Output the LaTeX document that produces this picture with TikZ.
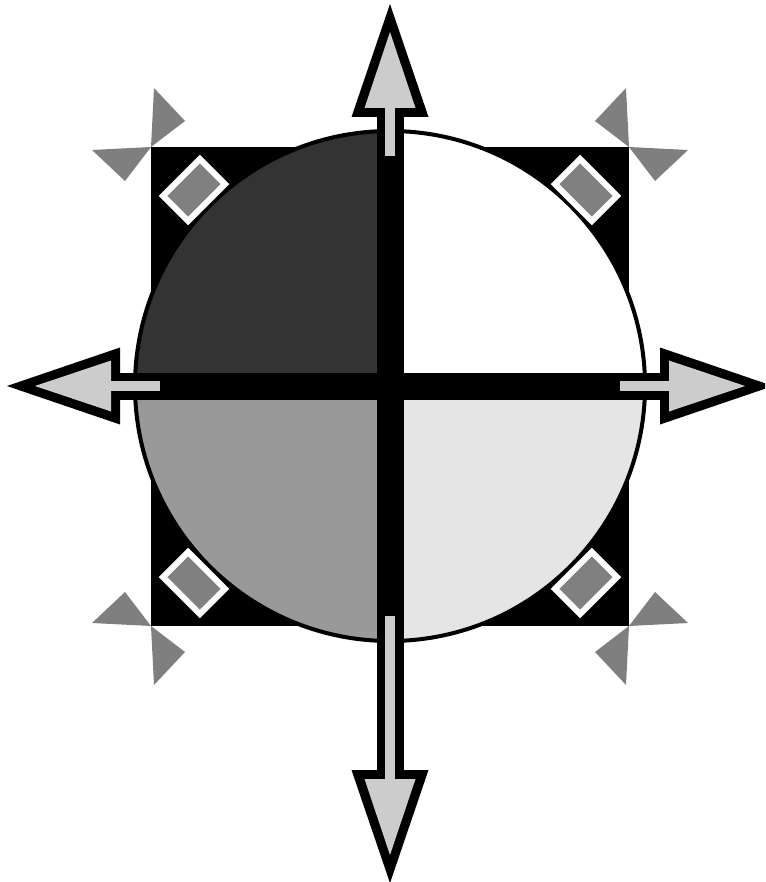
\documentclass[tikz,border=0pt]{standalone}
\definecolor{qdark}{gray}{0.2}
\definecolor{qmid}{gray}{0.6}
\definecolor{qlight}{gray}{0.9}
\definecolor{arrowfill}{gray}{0.8}
\definecolor{markgray}{gray}{0.5}
\tikzset{
  sectorline/.style={draw=black,line width=4pt},
  markbox/.style={fill=markgray,draw=white,line width=6pt},
  cornertri/.style={fill=black,fill opacity=0.5},
}
\newcommand\compassarrow[2]{%
  \begin{scope}[shift={(390,386)},rotate=#1]
    \fill[black] (0,-13.5) rectangle (#2+2,13.5);
    \fill[black] (#2,-38.5) -- (#2+113,0) -- (#2,38.5) -- cycle;
    \fill[arrowfill] (230,-5) rectangle (#2+12,5);
    \fill[arrowfill] (#2+9,-25.5) -- (#2+85,0) -- (#2+9,25.5) -- cycle;
  \end{scope}}
\newcommand\markdiamond[3]{%
  \begin{scope}[shift={(#1,#2)},rotate=#3]
    \filldraw[markbox] (-26,-17.75) rectangle (26,17.75);
  \end{scope}}
\begin{document}
\begin{tikzpicture}[x=1pt,y=-1pt]
\useasboundingbox (0,0) rectangle (765,882);
\clip (0,0) rectangle (765,882);
% black square
\fill[black] (151,147) rectangle (629,626);
% corner triangles
\fill[cornertri] (151,147) -- (154,88) -- (185,121) -- cycle;
\fill[cornertri] (151,147) -- (92,150) -- (125,181) -- cycle;
\fill[cornertri] (629,147) -- (626,88) -- (595,121) -- cycle;
\fill[cornertri] (629,147) -- (688,150) -- (655,181) -- cycle;
\fill[cornertri] (151,626) -- (92,623) -- (125,592) -- cycle;
\fill[cornertri] (151,626) -- (154,685) -- (185,652) -- cycle;
\fill[cornertri] (629,626) -- (688,623) -- (655,592) -- cycle;
\fill[cornertri] (629,626) -- (626,685) -- (595,652) -- cycle;
% circle quadrants
\begin{scope}
  \clip (390,386) circle[radius=255pt];
  \fill[qdark] (100,100) rectangle (390,386);
  \fill[white] (390,100) rectangle (700,386);
  \fill[qmid] (100,386) rectangle (390,700);
  \fill[qlight] (390,386) rectangle (700,700);
\end{scope}
\draw[sectorline] (390,386) circle[radius=255pt];
% corner diamonds
\markdiamond{194}{190}{45}
\markdiamond{586}{190}{-45}
\markdiamond{194}{583}{-45}
\markdiamond{586}{583}{45}
% arrows
\compassarrow{0}{270}
\compassarrow{180}{270}
\compassarrow{90}{269}
\compassarrow{270}{384}
\end{tikzpicture}
\end{document}
